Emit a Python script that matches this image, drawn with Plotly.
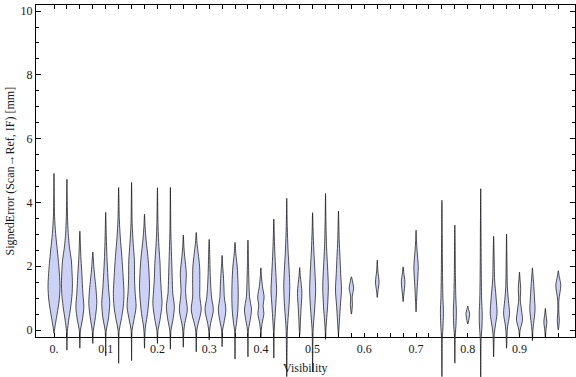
import plotly.graph_objects as go

# ---------------- data ----------------
visibility = [0.000, 0.025, 0.050, 0.075, 0.100, 0.125, 0.150, 0.175, 0.200, 0.225,
              0.250, 0.275, 0.300, 0.325, 0.350, 0.375, 0.400, 0.425, 0.450, 0.475,
              0.500, 0.525, 0.550, 0.575, 0.625, 0.675, 0.700, 0.750, 0.775, 0.800,
              0.825, 0.850, 0.875, 0.900, 0.925, 0.950, 0.975]

err_min = [-0.10, -0.63, -0.57, -0.42, -0.81, -1.04, -0.96, -0.57, -0.42, -0.60,
           -0.54, -0.68, -0.31, -0.52, -0.91, -0.84, -0.21, -0.88, -1.46, -0.16,
           -1.31, -0.29, -0.16, 0.50, 1.02, 0.89, 0.57, -1.46, -1.04, 0.19,
           -1.50, -0.84, -0.57, -0.21, -0.33, -0.21, 0.00]

err_max = [4.91, 4.73, 3.10, 2.45, 3.69, 4.47, 4.63, 3.63, 4.46, 4.47,
           2.98, 3.06, 2.84, 2.34, 2.75, 2.82, 1.95, 3.48, 4.13, 1.96,
           3.68, 4.28, 3.73, 1.67, 2.19, 1.98, 3.13, 4.07, 3.29, 0.75,
           4.43, 2.94, 3.01, 1.82, 1.95, 0.68, 1.86]

# relative density profile of each distribution: (error value, density)
density_profiles = [
    [(0.0, 0.4), (0.21, 1.5), (0.52, 3.2), (0.94, 5.2), (1.36, 6.0), (1.67, 5.6), (2.09, 4.6), (2.51, 3.3), (3.03, 1.6), (3.55, 0.6), (4.2, 0.2)],
    [(-0.05, 0.4), (0.31, 1.8), (0.73, 3.8), (1.15, 5.2), (1.46, 5.5), (1.88, 5.0), (2.19, 4.4), (2.61, 2.5), (3.03, 1.3), (3.55, 0.6), (4.2, 0.2)],
    [(0.0, 0.6), (0.31, 2.5), (0.73, 4.0), (1.15, 3.0), (1.46, 2.5), (1.88, 1.8), (2.3, 1.0), (2.72, 0.5)],
    [(0.0, 0.6), (0.31, 2.2), (0.83, 4.0), (1.25, 3.3), (1.6, 2.2), (2.0, 1.0)],
    [(0.0, 0.6), (0.31, 2.5), (0.83, 4.0), (1.25, 3.0), (1.67, 2.2), (2.3, 1.2), (2.92, 0.6)],
    [(0.0, 0.6), (0.31, 2.5), (0.73, 4.6), (1.15, 5.3), (1.67, 4.5), (2.3, 3.2), (2.92, 1.6), (3.45, 0.7)],
    [(0.0, 0.5), (0.26, 2.0), (0.73, 4.5), (1.15, 3.6), (1.57, 3.0), (2.19, 2.8), (2.72, 1.6), (3.34, 0.6)],
    [(-0.05, 0.5), (0.16, 1.2), (0.52, 3.0), (1.04, 4.6), (1.36, 5.0), (1.88, 4.4), (2.3, 3.4), (2.82, 1.6), (3.24, 0.6)],
    [(0.0, 0.6), (0.31, 2.5), (0.83, 4.6), (1.25, 3.8), (1.67, 3.0), (2.09, 2.6), (2.61, 1.5), (3.24, 0.6)],
    [(0.0, 0.6), (0.31, 2.5), (0.73, 4.0), (1.15, 2.4), (1.67, 1.8), (2.3, 1.2), (3.03, 0.5)],
    [(0.0, 0.6), (0.21, 1.5), (0.63, 4.0), (1.04, 2.6), (1.25, 2.3), (1.78, 3.0), (2.3, 1.4), (2.6, 0.6)],
    [(0.0, 0.6), (0.21, 2.0), (0.63, 5.0), (1.04, 3.6), (1.46, 3.6), (1.98, 3.4), (2.4, 2.0), (2.72, 0.8)],
    [(0.0, 0.5), (0.21, 1.5), (0.63, 4.2), (1.0, 2.5), (1.25, 1.8), (1.8, 1.0), (2.3, 0.6)],
    [(0.0, 0.5), (0.21, 1.8), (0.63, 3.8), (1.04, 2.2), (1.36, 1.8), (1.7, 1.3), (2.0, 0.6)],
    [(0.0, 0.5), (0.21, 1.5), (0.63, 2.8), (1.04, 3.2), (1.46, 3.0), (1.98, 2.2), (2.4, 0.8)],
    [(0.0, 0.5), (0.21, 1.6), (0.63, 3.5), (1.04, 1.6), (1.46, 1.0), (2.0, 0.6)],
    [(0.0, 0.4), (0.21, 1.2), (0.52, 3.0), (0.75, 2.2), (1.04, 3.2), (1.36, 1.6), (1.67, 0.6)],
    [(0.0, 0.4), (0.31, 1.0), (0.73, 1.8), (1.25, 2.8), (1.67, 2.2), (2.3, 1.2), (2.92, 0.5)],
    [(0.0, 0.6), (0.31, 1.2), (0.73, 2.2), (1.36, 3.0), (1.88, 2.4), (2.51, 1.3), (3.24, 0.5)],
    [(0.0, 0.4), (0.31, 0.8), (0.73, 1.5), (1.15, 2.2), (1.46, 1.5), (1.7, 0.6)],
    [(0.0, 0.5), (0.31, 1.2), (0.73, 2.2), (1.25, 3.0), (1.78, 2.4), (2.51, 1.2), (3.1, 0.5)],
    [(0.0, 0.4), (0.31, 1.0), (0.73, 2.0), (1.36, 2.8), (1.98, 2.0), (2.61, 1.0), (3.4, 0.4)],
    [(0.0, 0.4), (0.31, 1.0), (0.73, 1.8), (1.25, 3.0), (1.78, 2.2), (2.3, 1.5), (2.82, 0.7)],
    [(0.6, 0.5), (0.8, 1.0), (1.04, 0.8), (1.31, 2.2), (1.51, 1.2)],
    [(1.2, 0.6), (1.51, 1.8), (1.85, 0.6)],
    [(1.1, 0.6), (1.51, 1.8), (1.8, 0.6)],
    [(0.9, 0.5), (1.36, 1.2), (1.98, 2.2), (2.5, 1.0), (2.8, 0.4)],
    [(-0.3, 0.4), (0.2, 1.2), (0.6, 1.5), (1.0, 1.0), (1.8, 0.6), (3.0, 0.3)],
    [(-0.2, 0.4), (0.2, 1.2), (0.6, 1.5), (1.0, 1.0), (1.8, 0.5), (2.7, 0.3)],
    [(0.35, 1.2), (0.53, 1.8), (0.65, 0.8)],
    [(-0.3, 0.4), (0.1, 1.2), (0.5, 1.5), (1.0, 0.9), (2.0, 0.5), (3.2, 0.3)],
    [(-0.1, 0.7), (0.16, 1.8), (0.52, 3.4), (1.04, 2.4), (1.57, 1.0), (2.3, 0.5)],
    [(0.0, 0.7), (0.2, 1.5), (0.52, 3.0), (0.94, 1.8), (1.36, 0.8), (2.2, 0.4)],
    [(0.0, 0.6), (0.31, 3.0), (0.63, 2.0), (0.94, 0.8), (1.31, 1.2), (1.6, 0.5)],
    [(0.0, 0.5), (0.21, 1.2), (0.63, 2.6), (1.04, 2.0), (1.46, 1.2), (1.75, 0.5)],
    [(0.0, 0.6), (0.26, 1.5), (0.5, 0.6)],
    [(0.1, 0.5), (0.31, 1.0), (0.6, 0.5), (0.94, 0.6), (1.41, 2.5), (1.7, 0.8)],
]

x_tick_vals = [0.0, 0.1, 0.2, 0.3, 0.4, 0.5, 0.6, 0.7, 0.8, 0.9]
x_tick_text = ["0.", "0.1", "0.2", "0.3", "0.4", "0.5", "0.6", "0.7", "0.8", "0.9"]
x_minor_vals = [i * 0.025 for i in range(40)]
y_tick_vals = [0, 2, 4, 6, 8, 10]
y_minor_vals = [i * 0.5 for i in range(21)]

# ---------------- styling / layout constants ----------------
W, H = 576, 377
ML, MR, MT, MB = 36, 1, 5, 0
X_RANGE = [-0.0348, 1.0073]
Y_RANGE = [-0.229, 10.19]          # frame
PX_PER_Y = 31.9
plot_h = H - MT - MB
frame_bottom_px = 337.3
Y_DOMAIN = [(H - frame_bottom_px) / plot_h, 1.0]
Y2_RANGE = [Y_RANGE[1] - plot_h / PX_PER_Y, Y_RANGE[1]]
PX_PER_X = (W - ML - MR) / (X_RANGE[1] - X_RANGE[0])
DENS_SCALE = 1.0 / PX_PER_X        # density unit -> x data units

FILL = "rgb(204,210,247)"
EDGE = "rgba(10,10,10,0.7)"
FONT = "Liberation Serif, Times New Roman, serif"
TXT = "#1a1a1a"

fig = go.Figure()

# empty trace so that the framed x/y subplot is created
fig.add_trace(go.Scatter(x=[None], y=[None], xaxis="x", yaxis="y",
                         mode="lines", hoverinfo="skip", showlegend=False))

for pos, lo, hi, prof in zip(visibility, err_min, err_max, density_profiles):
    ys = [lo] + [p[0] for p in prof] + [hi] + [p[0] for p in reversed(prof)] + [lo]
    xs = ([pos] + [pos + p[1] * DENS_SCALE for p in prof] + [pos]
          + [pos - p[1] * DENS_SCALE for p in reversed(prof)] + [pos])
    fig.add_trace(go.Scatter(
        x=xs, y=ys, xaxis="x", yaxis="y2",
        mode="lines", line=dict(color=EDGE, width=1, shape="spline", smoothing=0.8),
        fill="toself", fillcolor=FILL, hoverinfo="skip", showlegend=False))

fig.update_layout(
    template="none",
    width=W, height=H,
    margin=dict(l=ML, r=MR, t=MT, b=MB, autoexpand=False),
    paper_bgcolor="white", plot_bgcolor="rgba(0,0,0,0)",
    font=dict(family=FONT, size=12, color=TXT),
    showlegend=False,
    hovermode=False,
    xaxis=dict(
        range=X_RANGE, domain=[0, 1], anchor="y", automargin=False,
        showgrid=False, zeroline=False,
        showline=True, linecolor="black", linewidth=1, mirror="ticks",
        ticks="inside", ticklen=4, tickcolor="black", tickwidth=1,
        tickmode="array", tickvals=x_tick_vals, ticktext=x_tick_text,
        tickfont=dict(family=FONT, size=12, color=TXT),
        minor=dict(tickmode="array", tickvals=x_minor_vals, ticks="inside",
                   ticklen=4, tickcolor="black", tickwidth=1, showgrid=False),
    ),
    yaxis=dict(
        range=Y_RANGE, domain=Y_DOMAIN, anchor="x", automargin=False,
        showgrid=False, zeroline=False,
        showline=True, linecolor="black", linewidth=1, mirror="ticks",
        ticks="inside", ticklen=5, tickcolor="black", tickwidth=1,
        tickmode="array", tickvals=y_tick_vals,
        tickfont=dict(family=FONT, size=12, color=TXT),
        minor=dict(tickmode="array", tickvals=y_minor_vals, ticks="inside",
                   ticklen=3, tickcolor="black", tickwidth=1, showgrid=False),
    ),
    yaxis2=dict(
        range=Y2_RANGE, domain=[0, 1], anchor="x", automargin=False,
        visible=False, showgrid=False, zeroline=False,
    ),
    annotations=[
        dict(text="Visibility", xref="paper", yref="paper",
             x=0.5, y=(H - 368) / plot_h, xanchor="center", yanchor="middle",
             showarrow=False, font=dict(family=FONT, size=12, color=TXT)),
        dict(text="SignedError (Scan→Ref, IF) [mm]", xref="paper", yref="paper",
             x=(9.5 - ML) / (W - ML - MR), y=(H - 171) / plot_h,
             xanchor="center", yanchor="middle", textangle=-90,
             showarrow=False, font=dict(family=FONT, size=12, color=TXT)),
    ],
)

fig.write_html("out.html",
               config={"displayModeBar": False, "staticPlot": True},
               post_script="document.body.style.margin='0';document.body.style.overflow='hidden';")
